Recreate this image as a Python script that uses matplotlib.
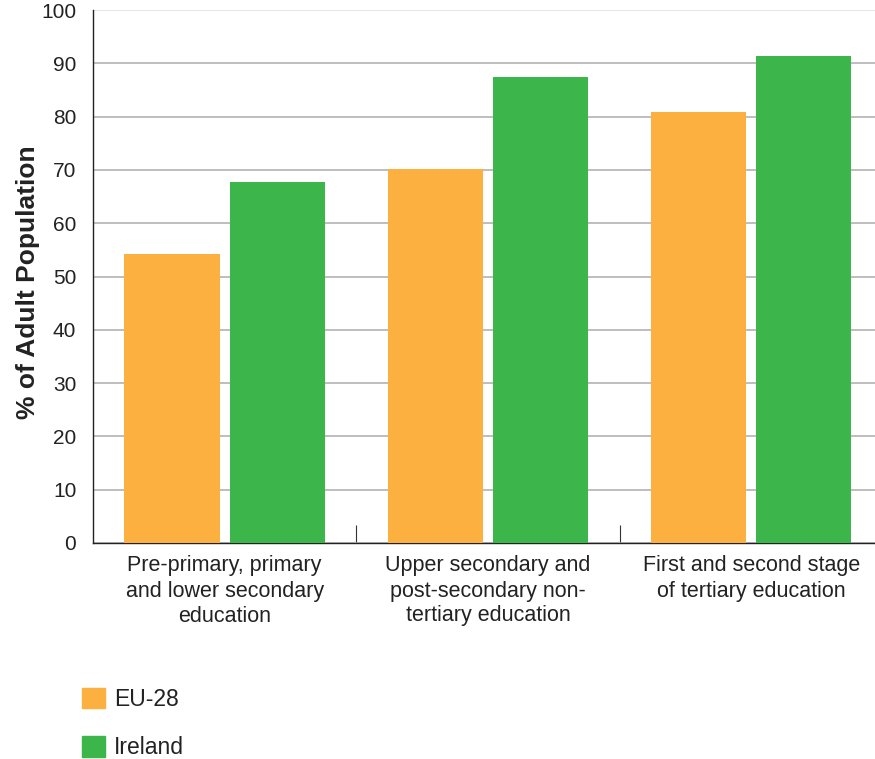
import numpy as np
import matplotlib.pyplot as plt
from matplotlib.patches import Patch

plt.rcParams['font.family'] = ['Liberation Sans', 'DejaVu Sans']

categories = ['Pre-primary, primary\nand lower secondary\neducation',
              'Upper secondary and\npost-secondary non-\ntertiary education',
              'First and second stage\nof tertiary education']
eu28 = [54.2, 70.2, 80.9]
ireland = [67.7, 87.4, 91.4]

c_eu = '#FBB040'
c_ie = '#3CB54A'

fig = plt.figure(figsize=(8.75, 7.59), dpi=100)
ax = fig.add_axes([93/875, 216/759, 1 - 93/875, 533/759])

x = np.arange(len(categories))
w = 0.361
ax.bar(x - 0.2, eu28, w, color=c_eu, zorder=3)
ax.bar(x + 0.2, ireland, w, color=c_ie, zorder=3)

ax.set_xlim(-0.5, 2.47)
ax.set_ylim(0, 100)
ax.set_yticks(np.arange(0, 101, 10))
ax.yaxis.grid(True, color='#b3b3b3', linewidth=1.2, zorder=0)
ax.get_ygridlines()[-1].set_color('#e0e0e0')
ax.tick_params(axis='y', length=0, pad=12, labelsize=15, labelcolor='#222222')

ax.set_xticks(x)
ax.set_xticklabels(categories, fontsize=15.5, color='#222222', linespacing=1.25)
ax.tick_params(axis='x', which='major', length=0, pad=9)
ax.set_xticks([0.5, 1.5], minor=True)
ax.tick_params(axis='x', which='minor', direction='in', length=13, width=0.8, color='#333333')

for s in ['top', 'right']:
    ax.spines[s].set_visible(False)
for s in ['left', 'bottom']:
    ax.spines[s].set_color('#222222')
    ax.spines[s].set_linewidth(1.0)

ax.set_ylabel('% of Adult Population', fontsize=19, fontweight='bold', color='#222222')
ax.yaxis.set_label_coords(-0.068, 0.49)

handles = [Patch(color=c_eu, label='EU-28'), Patch(color=c_ie, label='Ireland')]
fig.legend(handles=handles, loc='upper left', bbox_to_anchor=(61/875, 1 - 667/759),
           frameon=False, fontsize=16.5, handlelength=1.0, handleheight=1.0,
           labelspacing=1.12, handletextpad=0.4, labelcolor='#222222')

fig.savefig('out.png', dpi=100)
